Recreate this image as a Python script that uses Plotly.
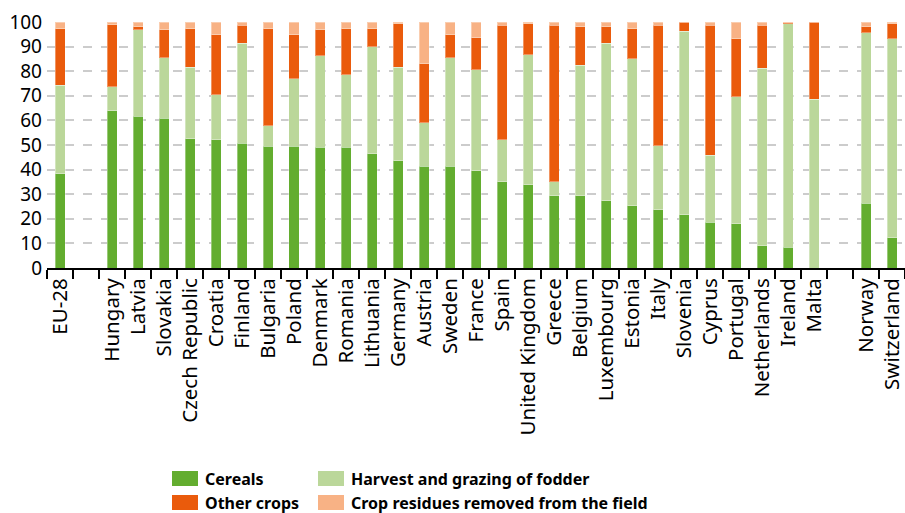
import plotly.graph_objects as go

categories = ["EU-28", " ", "Hungary", "Latvia", "Slovakia", "Czech Republic", "Croatia",
              "Finland", "Bulgaria", "Poland", "Denmark", "Romania", "Lithuania", "Germany",
              "Austria", "Sweden", "France", "Spain", "United Kingdom", "Greece", "Belgium",
              "Luxembourg", "Estonia", "Italy", "Slovenia", "Cyprus", "Portugal",
              "Netherlands", "Ireland", "Malta", "  ", "Norway", "Switzerland"]

cereals = [38.3, None, 64.0, 61.6, 60.8, 52.6, 52.1, 50.7, 49.5, 49.5, 49.0, 49.0, 46.4, 43.7,
           41.3, 41.3, 39.5, 35.0, 33.8, 29.4, 29.4, 27.3, 25.4, 23.7, 21.7, 18.5, 18.0,
           9.1, 8.5, 0.0, None, 26.3, 12.3]
fodder = [35.9, None, 9.6, 35.3, 24.7, 29.1, 18.4, 40.6, 8.4, 27.4, 37.2, 29.6, 43.5, 38.0,
          17.7, 44.2, 41.0, 17.1, 52.9, 5.6, 53.0, 64.0, 59.6, 26.0, 74.6, 27.4, 51.7,
          72.0, 90.8, 68.6, None, 69.4, 80.8]
other_crops = [23.1, None, 25.2, 1.2, 11.4, 15.6, 24.4, 7.3, 39.4, 18.0, 10.7, 18.7, 7.4, 17.6,
               24.1, 9.4, 13.1, 46.5, 12.6, 63.6, 15.7, 6.8, 12.3, 48.9, 3.7, 52.7, 23.4,
               17.5, 0.4, 31.4, None, 2.4, 6.2]
residues = [2.7, None, 1.2, 1.9, 3.1, 2.7, 5.1, 1.4, 2.7, 5.1, 3.1, 2.7, 2.7, 0.7,
            16.9, 5.1, 6.4, 1.4, 0.7, 1.4, 1.9, 1.9, 2.7, 1.4, 0.0, 1.4, 6.9,
            1.4, 0.3, 0.0, None, 1.9, 0.7]

series_names = ["Cereals", "Harvest and grazing of fodder", "Other crops",
                "Crop residues removed from the field"]
series_values = [cereals, fodder, other_crops, residues]
colors = ["#63ad2f", "#bbd79a", "#ea5b0c", "#f8b285"]

W, H = 905, 513
L, R, T, B = 47, 905, 22, 268

fig = go.Figure()
for name, vals, col in zip(series_names, series_values, colors):
    fig.add_trace(go.Bar(
        x=categories, y=vals, name=name,
        marker=dict(color=col, line=dict(color="rgba(255,255,255,0.35)", width=1)),
        showlegend=False,
    ))

FONT = "Noto Sans, Open Sans, DejaVu Sans, sans-serif"

fig.update_layout(
    width=W, height=H,
    barmode="stack",
    bargap=0.615,
    margin=dict(l=L, r=W - R, t=T, b=H - B, pad=0),
    plot_bgcolor="white",
    paper_bgcolor="white",
    font=dict(family=FONT, color="#000000"),
    xaxis=dict(
        type="category",
        categoryorder="array",
        categoryarray=categories,
        tickangle=-90,
        tickfont=dict(size=20.5, family=FONT, color="#000"),
        showline=True, linecolor="#000", linewidth=2,
        ticks="outside", tickson="boundaries", ticklen=9, tickwidth=2, tickcolor="#000",
        showgrid=False,
        fixedrange=True,
    ),
    yaxis=dict(
        range=[0, 100],
        tickvals=list(range(0, 101, 10)),
        tickfont=dict(size=19, family=FONT, color="#000"),
        ticklabelstandoff=4,
        showgrid=True, gridcolor="#cccccc", gridwidth=1.5, griddash="dash",
        zeroline=False, showline=False, ticks="",
        fixedrange=True,
    ),
)


def px_x(p):
    return (p - L) / (R - L)


def px_y(p):
    return (B - p) / (B - T)


legend_items = [
    (172, 471, 203, series_names[0], colors[0]),
    (318, 471, 349, series_names[1], colors[1]),
    (172, 495, 203, series_names[2], colors[2]),
    (318, 495, 349, series_names[3], colors[3]),
]
for sx, sy, tx, label, col in legend_items:
    fig.add_shape(type="rect", xref="paper", yref="paper",
                  x0=px_x(sx), x1=px_x(sx + 26), y0=px_y(sy), y1=px_y(sy + 15),
                  fillcolor=col, line=dict(width=0))
    fig.add_annotation(xref="paper", yref="paper", x=px_x(tx), y=px_y(sy + 7.5),
                       text="<b>" + label + "</b>", showarrow=False,
                       xanchor="left", yanchor="middle",
                       font=dict(size=16, family=FONT, color="#000"))

fig.write_html(
    "out.html",
    config={"displayModeBar": False},
    post_script="document.body.style.margin='0';document.body.style.overflow='hidden';",
)
